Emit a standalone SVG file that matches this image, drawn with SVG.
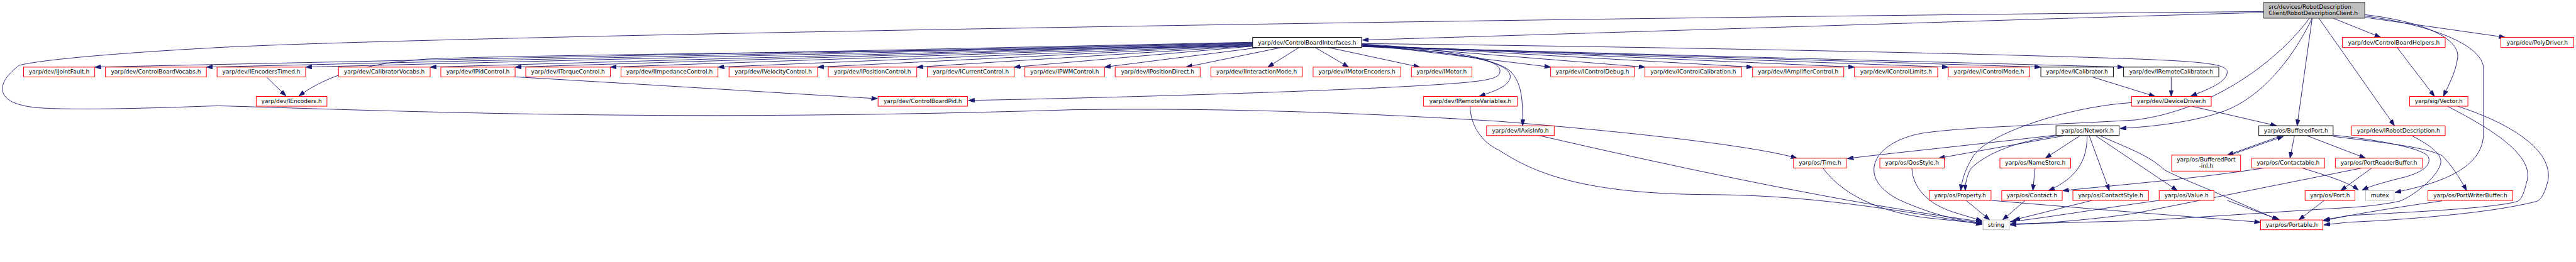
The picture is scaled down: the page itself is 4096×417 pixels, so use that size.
<svg xmlns="http://www.w3.org/2000/svg" width="4096" height="417" viewBox="0 0 4096 417">
<defs>
<style>
.e{fill:none;stroke:#191970;stroke-width:1.3}
.r{fill:#fff;stroke:#ff0000;stroke-width:1.4}
.b{fill:#fff;stroke:#000;stroke-width:1.4}
.g{fill:#fff;stroke:#bfbfbf;stroke-width:1.4}
.root{fill:#bfbfbf;stroke:#404040;stroke-width:1.4}
text{font-family:"DejaVu Sans","Liberation Sans",sans-serif;font-size:12.8px;fill:#000;text-anchor:middle}
text.l{text-anchor:start}
</style>
<marker id="a" viewBox="0 0 14 10" refX="14" refY="5" markerWidth="14" markerHeight="10" markerUnits="userSpaceOnUse" orient="auto"><path d="M0,0L14,5L0,10z" fill="#191970" stroke="#191970"/></marker>
</defs>
<rect width="4096" height="417" fill="#fff"/>
<g transform="scale(0.7073)">
<g id="edges" marker-end="url(#a)">
<path class="e" marker-end="url(#a)" d="M5089,28C4500,45 3800,68 3063,90"/>
<path class="e" marker-end="url(#a)" d="M5089,26C3500,40 1000,80 490,107C250,120 90,135 43,147C20,165 2,185 6,205C10,225 35,237 80,242C150,248 300,245 490,238C900,250 1500,275 2410,247C2700,243 3000,250 3370,273C3700,300 3950,330 4040,356"/>
<path class="e" marker-end="url(#a)" d="M5198,41C5150,140 5080,220 5000,250C4930,275 4840,285 4766,289"/>
<path class="e" marker-end="url(#a)" d="M5192,41C5110,150 4960,250 4800,270C4600,282 4420,285 4320,300C4210,320 4170,400 4270,450C4350,485 4400,496 4456,501"/>
<path class="e" marker-end="url(#a)" d="M5198,41L5164,283"/>
<path class="e" marker-end="url(#a)" d="M5213,41L5383,283"/>
<path class="e" marker-end="url(#a)" d="M5245,41L5352,84"/>
<path class="e" marker-end="url(#a)" d="M5316,33C5460,50 5530,90 5525,130C5520,165 5505,190 5493,217"/>
<path class="e" marker-end="url(#a)" d="M5316,36C5460,55 5583,100 5583,155L5583,300C5583,385 5470,415 5384,433"/>
<path class="e" marker-end="url(#a)" d="M5316,39L5632,84"/>
<path class="e" marker-end="url(#a)" d="M2816,95L213,151"/>
<path class="e" marker-end="url(#a)" d="M2816,96L464,151"/>
<path class="e" marker-end="url(#a)" d="M2816,97L687,151"/>
<path class="e" marker-end="url(#a)" d="M2816,98L967,151"/>
<path class="e" marker-end="url(#a)" d="M2816,99L1158,151"/>
<path class="e" marker-end="url(#a)" d="M2816,100L1372,151"/>
<path class="e" marker-end="url(#a)" d="M2816,101L1614,151"/>
<path class="e" marker-end="url(#a)" d="M2816,102L1838,151"/>
<path class="e" marker-end="url(#a)" d="M2816,103L2061,151"/>
<path class="e" marker-end="url(#a)" d="M2816,104L2280,151"/>
<path class="e" marker-end="url(#a)" d="M2830,107L2483,151"/>
<path class="e" marker-end="url(#a)" d="M2880,107L2666,151"/>
<path class="e" marker-end="url(#a)" d="M2920,107L2850,151"/>
<path class="e" marker-end="url(#a)" d="M2957,107L3032,151"/>
<path class="e" marker-end="url(#a)" d="M2987,107L3192,151"/>
<path class="e" marker-end="url(#a)" d="M3061,99L3486,151"/>
<path class="e" marker-end="url(#a)" d="M3061,100L3698,151"/>
<path class="e" marker-end="url(#a)" d="M3061,101L3940,151"/>
<path class="e" marker-end="url(#a)" d="M3061,102L4169,151"/>
<path class="e" marker-end="url(#a)" d="M3061,103L4380,151"/>
<path class="e" marker-end="url(#a)" d="M3061,104L4588,151"/>
<path class="e" marker-end="url(#a)" d="M3061,105L4774,151"/>
<path class="e" marker-end="url(#a)" d="M2816,104C2000,115 1100,125 960,133C840,140 740,165 672,216"/>
<path class="e" marker-end="url(#a)" d="M599,173L643,216"/>
<path class="e" marker-end="url(#a)" d="M1158,173C1500,193 1800,212 1973,222"/>
<path class="e" marker-end="url(#a)" d="M3061,99C3250,110 3370,130 3372,158C3374,175 3350,180 3300,185C3150,200 2600,218 2177,226"/>
<path class="e" marker-end="url(#a)" d="M3061,102C3300,118 3400,140 3395,175C3390,195 3360,205 3325,217"/>
<path class="e" marker-end="url(#a)" d="M3061,104C3250,115 3360,130 3395,160C3420,185 3424,220 3423,283"/>
<path class="e" marker-end="url(#a)" d="M3061,98C3600,104 4400,118 4810,133C4960,139 5007,145 5007,162C5007,185 4960,203 4925,216"/>
<path class="e" marker-end="url(#a)" d="M4703,173L4845,217"/>
<path class="e" marker-end="url(#a)" d="M4881,173L4881,217"/>
<path class="e" marker-end="url(#a)" d="M4927,239L5118,283"/>
<path class="e" marker-end="url(#a)" d="M4792,231C4650,240 4470,300 4437,350C4415,385 4410,410 4408,429"/>
<path class="e" marker-end="url(#a)" d="M5389,107L5473,217"/>
<path class="e" marker-end="url(#a)" d="M5502,239C5600,290 5700,350 5680,410C5675,430 5670,448 5660,453C5600,470 5400,478 5280,485L5224,495"/>
<path class="e" marker-end="url(#a)" d="M5525,239C5650,280 5740,340 5728,407C5722,430 5715,448 5703,453C5600,480 5400,495 5280,500L5224,506"/>
<path class="e" marker-end="url(#a)" d="M5423,306C5470,330 5490,350 5487,367C5480,400 5420,445 5393,453C5350,462 5300,466 5280,467C5100,478 4900,492 4800,497L4519,504"/>
<path class="e" marker-end="url(#a)" d="M5490,452C5400,465 5300,480 5222,497"/>
<path class="e" marker-end="url(#a)" d="M5125,307L5007,349"/>
<path class="e" marker-end="url(#a)" d="M5013,349L5133,307"/>
<path class="e" marker-end="url(#a)" d="M5158,306L5148,356"/>
<path class="e" marker-end="url(#a)" d="M5188,306L5318,356"/>
<path class="e" marker-end="url(#a)" d="M5245,304C5350,315 5455,335 5460,355C5465,375 5440,390 5400,400C5360,410 5330,418 5310,428"/>
<path class="e" marker-end="url(#a)" d="M5245,307C5350,320 5450,330 5490,350C5510,370 5530,400 5545,429"/>
<path class="e" marker-end="url(#a)" d="M4622,304C4400,330 4200,350 4153,357"/>
<path class="e" marker-end="url(#a)" d="M4637,306L4358,356"/>
<path class="e" marker-end="url(#a)" d="M4622,306C4520,320 4460,350 4430,380C4420,400 4418,415 4418,429"/>
<path class="e" marker-end="url(#a)" d="M4675,306L4598,356"/>
<path class="e" marker-end="url(#a)" d="M4692,306C4692,360 4670,400 4605,429"/>
<path class="e" marker-end="url(#a)" d="M4697,306L4742,429"/>
<path class="e" marker-end="url(#a)" d="M4712,306L4895,429"/>
<path class="e" marker-end="url(#a)" d="M4722,306C4800,340 4830,350 4867,383C4900,400 4950,420 4967,427L5122,495"/>
<path class="e" marker-end="url(#a)" d="M4575,378L4570,429"/>
<path class="e" marker-end="url(#a)" d="M5090,378C4950,400 4800,413 4637,429"/>
<path class="e" marker-end="url(#a)" d="M5175,378C5230,395 5280,410 5302,428"/>
<path class="e" marker-end="url(#a)" d="M5332,378L5262,429"/>
<path class="e" marker-end="url(#a)" d="M5310,378C5200,400 5000,440 4800,480C4700,495 4600,502 4519,506"/>
<path class="e" marker-end="url(#a)" d="M5225,451L5168,495"/>
<path class="e" marker-end="url(#a)" d="M5007,451L5125,495"/>
<path class="e" marker-end="url(#a)" d="M4854,451C4750,465 4600,490 4519,499"/>
<path class="e" marker-end="url(#a)" d="M4420,451L4473,495"/>
<path class="e" marker-end="url(#a)" d="M4477,451C4700,470 4950,490 5082,500"/>
<path class="e" marker-end="url(#a)" d="M4553,451L4502,495"/>
<path class="e" marker-end="url(#a)" d="M4703,451L4527,495"/>
<path class="e" marker-end="url(#a)" d="M4298,378C4300,420 4330,460 4400,480L4456,497"/>
<path class="e" marker-end="url(#a)" d="M4098,378C4150,450 4250,480 4330,490L4456,503"/>
<path class="e" marker-end="url(#a)" d="M3460,305C3700,360 4100,450 4456,499"/>
<path class="e" marker-end="url(#a)" d="M3305,239C3305,280 3330,320 3370,338C3450,390 3560,437 3850,438C4100,440 4300,480 4456,505"/>
</g>
<g id="n_root"><rect class="root" x="5089" y="5" width="227" height="36"/><text class="l" x="5100" y="20">src/devices/RobotDescription</text><text class="l" x="5100" y="34">Client/RobotDescriptionClient.h</text></g>
<g id="n_cbi"><rect class="b" x="2816" y="84" width="245" height="23"/><text x="2938.5" y="100">yarp/dev/ControlBoardInterfaces.h</text></g>
<g id="n_cbh"><rect class="r" x="5266" y="84" width="231" height="23"/><text x="5381.5" y="100">yarp/dev/ControlBoardHelpers.h</text></g>
<g id="n_poly"><rect class="r" x="5622" y="84" width="164" height="23"/><text x="5704" y="100">yarp/dev/PolyDriver.h</text></g>
<g id="n_ijf"><rect class="r" x="53" y="151" width="160" height="22"/><text x="133" y="166">yarp/dev/IJointFault.h</text></g>
<g id="n_cbv"><rect class="r" x="237" y="151" width="227" height="22"/><text x="350.5" y="166">yarp/dev/ControlBoardVocabs.h</text></g>
<g id="n_iet"><rect class="r" x="488" y="151" width="199" height="22"/><text x="587.5" y="166">yarp/dev/IEncodersTimed.h</text></g>
<g id="n_cav"><rect class="r" x="761" y="151" width="206" height="22"/><text x="864" y="166">yarp/dev/CalibratorVocabs.h</text></g>
<g id="n_pid"><rect class="r" x="991" y="151" width="167" height="22"/><text x="1074.5" y="166">yarp/dev/IPidControl.h</text></g>
<g id="n_tor"><rect class="r" x="1182" y="151" width="190" height="22"/><text x="1277" y="166">yarp/dev/ITorqueControl.h</text></g>
<g id="n_imp"><rect class="r" x="1396" y="151" width="218" height="22"/><text x="1505" y="166">yarp/dev/IImpedanceControl.h</text></g>
<g id="n_vel"><rect class="r" x="1639" y="151" width="199" height="22"/><text x="1738.5" y="166">yarp/dev/IVelocityControl.h</text></g>
<g id="n_pos"><rect class="r" x="1862" y="151" width="199" height="22"/><text x="1961.5" y="166">yarp/dev/IPositionControl.h</text></g>
<g id="n_cur"><rect class="r" x="2085" y="151" width="195" height="22"/><text x="2182.5" y="166">yarp/dev/ICurrentControl.h</text></g>
<g id="n_pwm"><rect class="r" x="2304" y="151" width="179" height="22"/><text x="2393.5" y="166">yarp/dev/IPWMControl.h</text></g>
<g id="n_pdi"><rect class="r" x="2507" y="151" width="191" height="22"/><text x="2602.5" y="166">yarp/dev/IPositionDirect.h</text></g>
<g id="n_int"><rect class="r" x="2722" y="151" width="206" height="22"/><text x="2825" y="166">yarp/dev/IInteractionMode.h</text></g>
<g id="n_men"><rect class="r" x="2952" y="151" width="197" height="22"/><text x="3050.5" y="166">yarp/dev/IMotorEncoders.h</text></g>
<g id="n_mot"><rect class="r" x="3173" y="151" width="136" height="22"/><text x="3241" y="166">yarp/dev/IMotor.h</text></g>
<g id="n_dbg"><rect class="r" x="3486" y="151" width="188" height="22"/><text x="3580" y="166">yarp/dev/IControlDebug.h</text></g>
<g id="n_cal"><rect class="r" x="3698" y="151" width="217" height="22"/><text x="3806.5" y="166">yarp/dev/IControlCalibration.h</text></g>
<g id="n_amp"><rect class="r" x="3940" y="151" width="205" height="22"/><text x="4042.5" y="166">yarp/dev/IAmplifierControl.h</text></g>
<g id="n_lim"><rect class="r" x="4169" y="151" width="187" height="22"/><text x="4262.5" y="166">yarp/dev/IControlLimits.h</text></g>
<g id="n_cm"><rect class="r" x="4380" y="151" width="183" height="22"/><text x="4471.5" y="166">yarp/dev/IControlMode.h</text></g>
<g id="n_icb"><rect class="b" x="4588" y="151" width="163" height="22"/><text x="4669.5" y="166">yarp/dev/ICalibrator.h</text></g>
<g id="n_irc"><rect class="b" x="4774" y="151" width="214" height="22"/><text x="4881" y="166">yarp/dev/IRemoteCalibrator.h</text></g>
<g id="n_ienc"><rect class="r" x="576" y="217" width="159" height="22"/><text x="655.5" y="232">yarp/dev/IEncoders.h</text></g>
<g id="n_cbpid"><rect class="r" x="1974" y="217" width="201" height="22"/><text x="2074.5" y="232">yarp/dev/ControlBoardPid.h</text></g>
<g id="n_irv"><rect class="r" x="3200" y="217" width="211" height="22"/><text x="3305.5" y="232">yarp/dev/IRemoteVariables.h</text></g>
<g id="n_dd"><rect class="r" x="4792" y="217" width="179" height="22"/><text x="4881.5" y="232">yarp/dev/DeviceDriver.h</text></g>
<g id="n_vec"><rect class="r" x="5417" y="217" width="131" height="22"/><text x="5482.5" y="232">yarp/sig/Vector.h</text></g>
<g id="n_axis"><rect class="r" x="3342" y="283" width="152" height="22"/><text x="3418" y="298">yarp/dev/IAxisInfo.h</text></g>
<g id="n_net"><rect class="b" x="4622" y="283" width="142" height="22"/><text x="4693" y="298">yarp/os/Network.h</text></g>
<g id="n_bp"><rect class="b" x="5078" y="283" width="167" height="22"/><text x="5161.5" y="298">yarp/os/BufferedPort.h</text></g>
<g id="n_ird"><rect class="r" x="5287" y="283" width="210" height="22"/><text x="5392" y="298">yarp/dev/IRobotDescription.h</text></g>
<g id="n_time"><rect class="r" x="4032" y="356" width="119" height="22"/><text x="4091.5" y="371">yarp/os/Time.h</text></g>
<g id="n_qos"><rect class="r" x="4226" y="356" width="145" height="22"/><text x="4298.5" y="371">yarp/os/QosStyle.h</text></g>
<g id="n_ns"><rect class="r" x="4496" y="356" width="159" height="22"/><text x="4575.5" y="371">yarp/os/NameStore.h</text></g>
<g id="n_bpinl"><rect class="r" x="4882" y="349" width="155" height="36"/><text x="4959.5" y="364">yarp/os/BufferedPort</text><text x="4959.5" y="378">-inl.h</text></g>
<g id="n_ctb"><rect class="r" x="5062" y="356" width="164" height="22"/><text x="5144" y="371">yarp/os/Contactable.h</text></g>
<g id="n_prb"><rect class="r" x="5250" y="356" width="196" height="22"/><text x="5348" y="371">yarp/os/PortReaderBuffer.h</text></g>
<g id="n_prop"><rect class="r" x="4337" y="429" width="139" height="22"/><text x="4406.5" y="444">yarp/os/Property.h</text></g>
<g id="n_con"><rect class="r" x="4500" y="429" width="136" height="22"/><text x="4568" y="444">yarp/os/Contact.h</text></g>
<g id="n_cs"><rect class="r" x="4660" y="429" width="170" height="22"/><text x="4745" y="444">yarp/os/ContactStyle.h</text></g>
<g id="n_val"><rect class="r" x="4854" y="429" width="123" height="22"/><text x="4915.5" y="444">yarp/os/Value.h</text></g>
<g id="n_port"><rect class="r" x="5182" y="429" width="112" height="22"/><text x="5238" y="444">yarp/os/Port.h</text></g>
<g id="n_mutex"><rect class="g" x="5318" y="429" width="64" height="22"/><text x="5350" y="444">mutex</text></g>
<g id="n_pwb"><rect class="r" x="5458" y="429" width="191" height="22"/><text x="5553.5" y="444">yarp/os/PortWriterBuffer.h</text></g>
<g id="n_string"><rect class="g" x="4458" y="495" width="59" height="22"/><text x="4487.5" y="510">string</text></g>
<g id="n_portable"><rect class="r" x="5082" y="495" width="140" height="22"/><text x="5152" y="510">yarp/os/Portable.h</text></g>
</g>
</svg>
